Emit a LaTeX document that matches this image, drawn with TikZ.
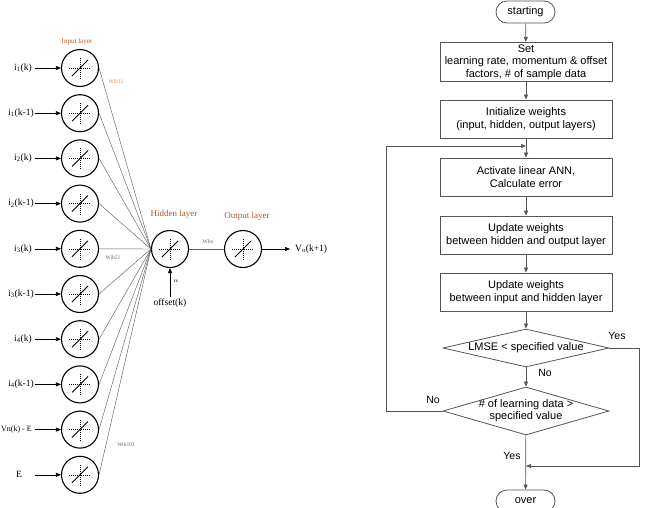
\documentclass[tikz,border=0pt]{standalone}
\usepackage{fontspec}
\setmainfont{Liberation Serif}
\newfontfamily\flowfont{Liberation Sans}
\usetikzlibrary{arrows.meta,shapes.geometric,shapes.misc}
\definecolor{layerc}{HTML}{A85A2E}
\definecolor{wihc}{HTML}{E8892B}
\definecolor{flowc}{HTML}{555555}
\begin{document}
\begin{tikzpicture}[x=1pt,y=-1pt,
  neuron/.style={circle, draw=black, line width=1.1pt, minimum size=37pt, inner sep=0pt,
    path picture={
      \draw[shift={(path picture bounding box.center)}, line width=0.4pt, dash pattern=on 1pt off 1pt] (-11pt,0pt) -- (11pt,0pt);
      \draw[shift={(path picture bounding box.center)}, line width=0.4pt, dash pattern=on 1pt off 1pt] (0pt,-11pt) -- (0pt,11pt);
      \draw[shift={(path picture bounding box.center)}, line width=0.9pt] (-8pt,-8pt) -- (8pt,8pt);
    }},
  inlab/.style={font=\fontsize{9.5}{11}\selectfont, inner sep=1pt},
  layerlab/.style={text=layerc, inner sep=1pt},
  wlab/.style={font=\fontsize{5.5}{6}\selectfont, text=gray!80!black, inner sep=1pt},
  inarrow/.style={draw=black, line width=0.6pt, -{Triangle[length=5pt,width=4pt]}},
  wline/.style={draw=gray!75!black, line width=0.45pt},
  fbox/.style={draw=flowc, line width=0.8pt, minimum width=172pt, minimum height=38pt, align=center, inner sep=2pt, font=\flowfont\fontsize{11}{12.7}\selectfont},
  term/.style={rounded rectangle, draw=flowc, line width=0.8pt, minimum width=63pt, minimum height=22pt, inner sep=2pt, font=\flowfont\fontsize{11}{12.7}\selectfont},
  dec/.style={diamond, draw=flowc, line width=0.8pt, inner sep=0pt, align=center, font=\flowfont\fontsize{11}{12.7}\selectfont},
  flab/.style={font=\flowfont\fontsize{10.5}{12}\selectfont, inner sep=1pt},
  fline/.style={draw=flowc, line width=0.7pt},
  farrow/.style={fline, -{Triangle[length=5pt,width=4pt]}}
]
\useasboundingbox (0,0) rectangle (647,507);

% ---------------- Neural network ----------------
\node[neuron] (hid) at (170,249) {};
\node[neuron] (out) at (243,249) {};

\foreach \i/\txt/\lx in {
  0/{i\textsubscript{1}(k)}/23,
  1/{i\textsubscript{1}(k-1)}/21,
  2/{i\textsubscript{2}(k)}/23,
  3/{i\textsubscript{2}(k-1)}/21,
  4/{i\textsubscript{3}(k)}/23,
  5/{i\textsubscript{3}(k-1)}/21,
  6/{i\textsubscript{4}(k)}/23,
  7/{i\textsubscript{4}(k-1)}/21,
  9/{E}/19}{
  \pgfmathsetmacro\yy{68+45.2*\i}
  \node[neuron] (in\i) at (80,\yy) {};
  \node[inlab] (lab\i) at (\lx,\yy) {\txt};
  \coordinate (s\i) at (35,\yy);
  \draw[inarrow] (s\i) -- (in\i.west);
  \draw[wline] (in\i.east) -- (hid.west);
}
% input 8 (label placed to stay inside the page)
\node[neuron] (in8) at (80,429.6) {};
\node[inlab, font=\fontsize{8}{9}\selectfont, anchor=east] (lab8) at (33,429.6) {Vn(k) - E};
\coordinate (s8) at (35,429.6);
\draw[inarrow] (s8) -- (in8.west);
\draw[wline] (in8.east) -- (hid.west);

\draw[wline] (hid.east) -- (out.west);
\coordinate (vo) at (290,249);
\draw[inarrow] (out.east) -- (vo);
\node[inlab, anchor=west] (volab) at (294,249) {V\textsubscript{o}(k+1)};

\node[inlab] (offlab) at (170,303) {offset(k)};
\draw[inarrow] (offlab.north) -- (hid.south);
\node[font=\fontsize{6}{7}\selectfont, inner sep=0pt] (alpha) at (176,281) {$\alpha$};

\node[layerlab, font=\fontsize{7}{8}\selectfont] (inlayer) at (77,42) {Input layer};
\node[layerlab, font=\fontsize{9}{10}\selectfont] (hidlayer) at (174,214) {Hidden layer};
\node[layerlab, font=\fontsize{9}{10}\selectfont] (outlayer) at (247,216) {Output layer};

\node[wlab, text=wihc] (w11) at (116,82) {Wih11};
\node[wlab] (w51) at (113,258) {Wih51};
\node[wlab] (w101) at (126,445) {Wih101};
\node[wlab] (who) at (208,242) {Who};

% ---------------- Flowchart ----------------
\node[term] (start) at (525.5,12) {starting};
\node[fbox] (b1) at (526,62) {Set\\learning rate, momentum \& offset\\factors, \# of sample data};
\node[fbox] (b2) at (526,119) {Initialize weights\\(input, hidden, output layers)};
\node[fbox] (b3) at (526,177) {Activate linear ANN,\\Calculate error};
\node[fbox] (b4) at (526,235) {Update weights\\between hidden and output layer};
\node[fbox] (b5) at (526,292) {Update weights\\between input and hidden layer};
\node[dec, minimum width=166pt, minimum height=38pt] (d1) at (526,348) {\makebox[0pt]{LMSE < specified value}};
\node[dec, minimum width=166pt, minimum height=48pt] (d2) at (526,411) {\makebox[0pt]{\begin{tabular}{@{}c@{}}\# of learning data >\\specified value\end{tabular}}};
\node[term] (over) at (525.5,501) {over};

\draw[farrow] (start) -- (b1);
\draw[farrow] (b1) -- (b2);
\draw[farrow] (b2) -- (b3);
\draw[farrow] (b3) -- (b4);
\draw[farrow] (b4) -- (b5);
\draw[farrow] (b5) -- (d1);
\draw[farrow] (d1) -- (d2);
\draw[farrow] (d2) -- (over);

\coordinate (j0) at (526,146);
\coordinate (c2) at (386,411);
\draw[farrow] (d2.west) -- (c2) |- (j0);

\coordinate (j1) at (526,466);
\coordinate (c1) at (639,348);
\draw[farrow] (d1.east) -- (c1) |- (j1);

\node[flab] (yes1) at (617,336) {Yes};
\node[flab] (no1) at (545,373) {No};
\node[flab] (no2) at (433,400) {No};
\node[flab] (yes2) at (512,456) {Yes};
\end{tikzpicture}
\end{document}
